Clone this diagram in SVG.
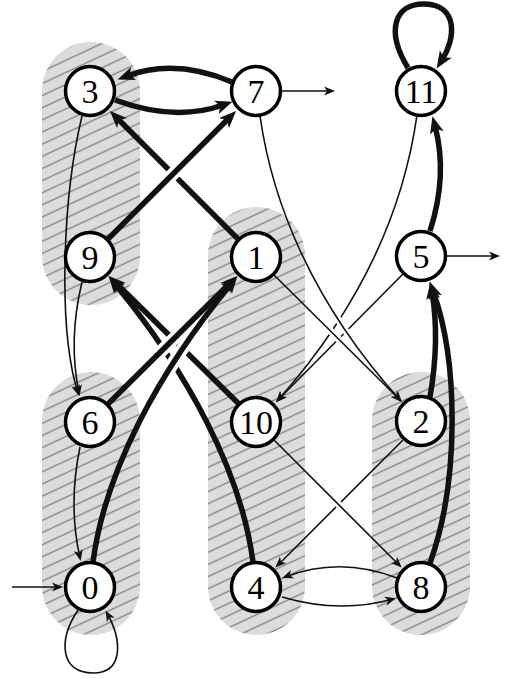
<svg xmlns="http://www.w3.org/2000/svg" width="505" height="678" viewBox="0 0 505 678">
<style>
.region{fill:url(#hatch);}
.node circle{fill:#fff;stroke:#000;stroke-width:3.5;}
.node text{font-family:"Liberation Serif","Times New Roman",serif;font-size:34px;text-anchor:middle;fill:#000;}
.thick{fill:none;stroke:#111;stroke-width:5.5;marker-end:url(#ak);}
.thin{fill:none;stroke:#111;stroke-width:1.6;marker-end:url(#an);}
.hk{fill:none;stroke:#000;stroke-width:13;}
.hn{fill:none;stroke:#000;stroke-width:7;}
</style>
<defs>
<pattern id="hatch" patternUnits="userSpaceOnUse" width="24" height="11" patternTransform="rotate(-25)">
<rect width="24" height="11" fill="#dcdcdc"/>
<line x1="0" y1="5.5" x2="24" y2="5.5" stroke="#808080" stroke-width="1.3"/>
</pattern>
<marker id="ak" markerUnits="userSpaceOnUse" markerWidth="18" markerHeight="14" refX="7" refY="7" orient="auto" overflow="visible">
<path d="M0,0 L17,7 L0,14 L4,7 Z" fill="#111"/>
</marker>
<marker id="an" markerUnits="userSpaceOnUse" markerWidth="12" markerHeight="9" refX="8" refY="4.5" orient="auto" overflow="visible">
<path d="M0,0 L11,4.5 L0,9 L3,4.5 Z" fill="#111"/>
</marker>
<mask id="m13" maskUnits="userSpaceOnUse" x="0" y="0" width="505" height="678">
<rect width="505" height="678" fill="#fff"/>
<path class="hk" d="M108,239 L229,118"/>
</mask>
<mask id="m9" maskUnits="userSpaceOnUse" x="0" y="0" width="505" height="678">
<rect width="505" height="678" fill="#fff"/>
<path class="hk" d="M108,404 L230,283"/>
<path class="hk" d="M93,562 C105,470 160,370 231,284"/>
</mask>
<mask id="m10" maskUnits="userSpaceOnUse" x="0" y="0" width="505" height="678">
<rect width="505" height="678" fill="#fff"/>
<path class="hn" d="M260,116 C272,200 310,300 400,400"/>
<path class="hn" d="M274,275 L399.5,399.5"/>
</mask>
<mask id="m4" maskUnits="userSpaceOnUse" x="0" y="0" width="505" height="678">
<rect width="505" height="678" fill="#fff"/>
<path class="hn" d="M274,440 L399.5,565.5"/>
</mask>
</defs>
<rect width="505" height="678" fill="#fff"/>
<g id="regions">
<rect class="region" x="42" y="42" width="98" height="263" rx="49" ry="49"/>
<rect class="region" x="42" y="372" width="98" height="263" rx="49" ry="49"/>
<rect class="region" x="208" y="207" width="97" height="428" rx="48.5" ry="48.5"/>
<rect class="region" x="372" y="372" width="98" height="263" rx="49" ry="49"/>
</g>
<g id="connectors">
<path class="thick" mask="url(#m13)" d="M239,240 L117,118"/>
<g mask="url(#m9)">
<path class="thick" d="M239,404 L116,283"/>
<path class="thick" d="M253,562 C241,470 186,370 115,284"/>
</g>
<g mask="url(#m10)">
<path class="thin" d="M417,115 C405,200 367,300 278,400"/>
<path class="thin" d="M403,274 L278,400"/>
</g>
<path class="thin" mask="url(#m4)" d="M403,440 L277.5,565.5"/>
<path class="thick" d="M108,239 L229,118"/>
<path class="thick" d="M108,404 L230,283"/>
<path class="thick" d="M93,562 C105,470 160,370 231,284"/>
<path class="thin" d="M260,116 C272,200 310,300 400,400"/>
<path class="thin" d="M274,275 L399.5,399.5"/>
<path class="thin" d="M274,440 L399.5,565.5"/>
<path class="thick" d="M232,82 Q175,58 127,76"/>
<path class="thick" d="M115,100 Q175,122 223,105"/>
<path class="thick" d="M430,231 Q448,175 435,126"/>
<path class="thick" d="M408,68 C385,30 395,3 425,4 C458,5 456,38 442,60"/>
<path class="thick" d="M430,397 Q440,340 432,292"/>
<path class="thick" d="M430,563 C460,480 458,360 433,291"/>
<path class="thin" d="M82,116 C62,200 58,330 78,393"/>
<path class="thin" d="M82,282 Q68,340 79,393"/>
<path class="thin" d="M80,447 Q68,505 80,558"/>
<path class="thin" d="M78,610 C58,640 60,673 93,673 C124,673 122,640 107,613"/>
<path class="thin" d="M12,587 L60,587"/>
<path class="thin" d="M281,91 L332,91"/>
<path class="thin" d="M446,256 L497,256"/>
<path class="thin" d="M397,578 Q340,556 285,577"/>
<path class="thin" d="M282,597 Q340,614 393,599"/>
</g>
<g id="node-3" class="node"><circle cx="90" cy="91" r="24.5"/><text x="90" y="102.5">3</text></g>
<g id="node-7" class="node"><circle cx="256" cy="91" r="24.5"/><text x="256" y="102.5">7</text></g>
<g id="node-11" class="node"><circle cx="421" cy="91" r="24.5"/><text x="421" y="102.5">11</text></g>
<g id="node-9" class="node"><circle cx="90" cy="257" r="24.5"/><text x="90" y="268.5">9</text></g>
<g id="node-1" class="node"><circle cx="256" cy="257" r="24.5"/><text x="256" y="268.5">1</text></g>
<g id="node-5" class="node"><circle cx="421" cy="256" r="24.5"/><text x="421" y="267.5">5</text></g>
<g id="node-6" class="node"><circle cx="90" cy="422" r="24.5"/><text x="90" y="433.5">6</text></g>
<g id="node-10" class="node"><circle cx="256" cy="422" r="24.5"/><text x="256" y="433.5">10</text></g>
<g id="node-2" class="node"><circle cx="421" cy="421" r="24.5"/><text x="421" y="432.5">2</text></g>
<g id="node-0" class="node"><circle cx="90" cy="587" r="24.5"/><text x="90" y="598.5">0</text></g>
<g id="node-4" class="node"><circle cx="256" cy="587" r="24.5"/><text x="256" y="598.5">4</text></g>
<g id="node-8" class="node"><circle cx="421" cy="587" r="24.5"/><text x="421" y="598.5">8</text></g>
</svg>
